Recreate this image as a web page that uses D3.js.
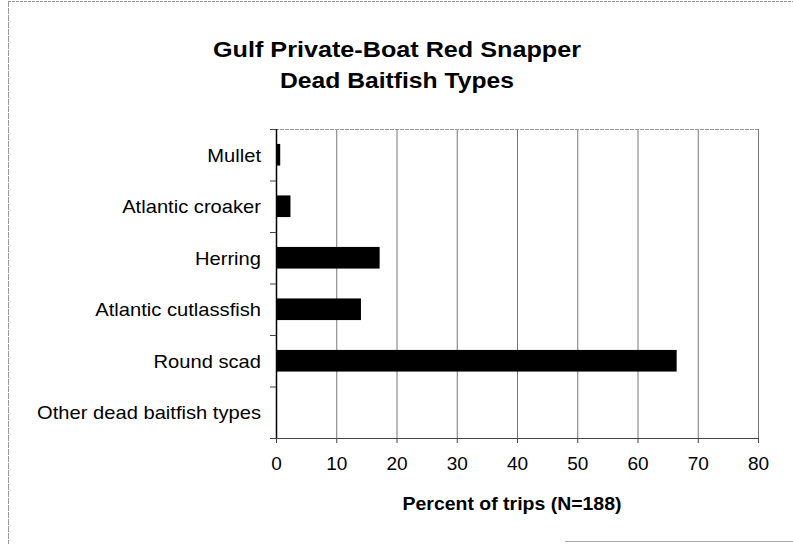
<!DOCTYPE html>
<html><head><meta charset="utf-8">
<script src="https://cdn.jsdelivr.net/npm/d3@7"></script>
<style>body{margin:0;background:#fff;} svg{display:block;}</style>
</head><body>
<svg id="c" width="793" height="544"></svg>
<script>
const categories = ["Mullet","Atlantic croaker","Herring","Atlantic cutlassfish","Round scad","Other dead baitfish types"];
const values = [0.7, 2.4, 17.2, 14.1, 66.5, 0];
const xTicks = [0,10,20,30,40,50,60,70,80];
const titleLines = ["Gulf Private-Boat Red Snapper","Dead Baitfish Types"];
const xTitle = "Percent of trips (N=188)";

const svg = d3.select("#c");
const m = {left:276, right:758, top:129, bottom:438};
const font = "Liberation Sans, Arial, sans-serif";

function stretch(sel, k){
  sel.each(function(){
    const w = this.getComputedTextLength();
    d3.select(this).attr("textLength", w*k).attr("lengthAdjust","spacingAndGlyphs");
  });
}

// outer frame
svg.append("line").attr("x1",8).attr("x2",793).attr("y1",1.5).attr("y2",1.5).attr("stroke","#999").attr("stroke-dasharray","3,1");
svg.append("line").attr("x1",8.5).attr("x2",8.5).attr("y1",1).attr("y2",544).attr("stroke","#999").attr("stroke-dasharray","6,1");
svg.append("line").attr("x1",565).attr("x2",793).attr("y1",541.5).attr("y2",541.5).attr("stroke","#aaa");

const x = d3.scaleLinear().domain([0,80]).range([m.left,m.right]);
const y = d3.scaleBand().domain(categories).range([m.top,m.bottom]).paddingInner(0.58).paddingOuter(0.29);

// gridlines
svg.append("g").selectAll("line").data(xTicks.slice(1)).join("line")
  .attr("x1",d=>x(d)+0.5).attr("x2",d=>x(d)+0.5).attr("y1",m.top).attr("y2",m.bottom)
  .attr("stroke","#777").attr("stroke-width",1);
// top border
svg.append("line").attr("x1",m.left-6).attr("x2",m.right).attr("y1",m.top+0.5).attr("y2",m.top+0.5).attr("stroke","#999").attr("stroke-dasharray","4,1");

// bars
svg.append("g").selectAll("rect").data(values).join("rect")
  .attr("x",x(0)).attr("y",(d,i)=>y(categories[i])).attr("width",d=>x(d)-x(0)).attr("height",y.bandwidth())
  .attr("fill","#000");

// x axis
const xa = svg.append("g").attr("transform",`translate(0,${m.bottom})`)
  .call(d3.axisBottom(x).tickValues(xTicks).tickSize(5).tickPadding(14));
xa.select(".domain").attr("stroke","#444");
xa.selectAll(".tick line").attr("stroke","#444");
xa.selectAll("text").attr("font-family",font).attr("font-size",19).attr("fill","#000");

// y axis
const yBounds = d3.range(categories.length+1).map(i=>m.top + i*(m.bottom-m.top)/categories.length);
svg.append("line").attr("x1",m.left+0.5).attr("x2",m.left+0.5).attr("y1",m.top).attr("y2",m.bottom).attr("stroke","#000").attr("stroke-width",1.5);
svg.append("g").selectAll("line").data(yBounds).join("line")
  .attr("x1",m.left-6).attr("x2",m.left).attr("y1",d=>d+0.5).attr("y2",d=>d+0.5).attr("stroke","#444");
const yl = svg.append("g").selectAll("text").data(categories).join("text")
  .attr("x",261).attr("y",d=>y(d)+y.bandwidth()/2).attr("dy","0.36em")
  .attr("text-anchor","end").attr("font-family",font).attr("font-size",19).text(d=>d);
stretch(yl, 1.06);

// titles
const titleLen = [368, 234];
svg.append("g").selectAll("text").data(titleLines).join("text")
  .attr("x",397).attr("y",(d,i)=>57+i*31).attr("text-anchor","middle")
  .attr("font-family",font).attr("font-weight","bold").attr("font-size",22)
  .attr("textLength",(d,i)=>titleLen[i]).attr("lengthAdjust","spacingAndGlyphs").text(d=>d);
svg.append("text").attr("x",512).attr("y",510).attr("text-anchor","middle")
  .attr("font-family",font).attr("font-weight","bold").attr("font-size",18)
  .attr("textLength",219).attr("lengthAdjust","spacingAndGlyphs").text(xTitle);
</script>
</body></html>
